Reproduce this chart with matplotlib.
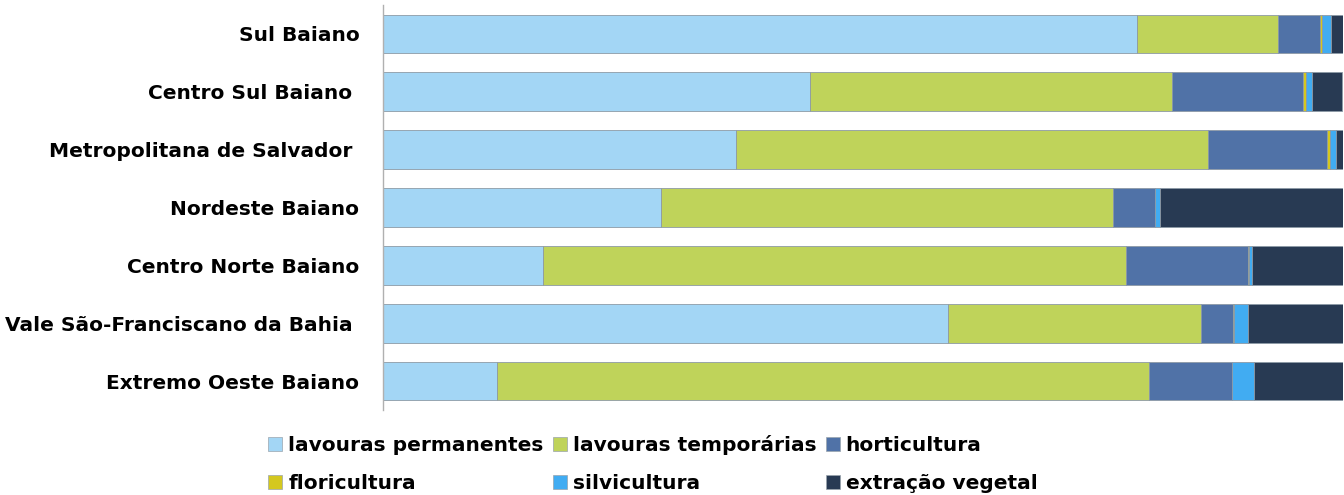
import matplotlib.pyplot as plt
from matplotlib.patches import Patch
import numpy as np

regions = [
    "Sul Baiano",
    "Centro Sul Baiano ",
    "Metropolitana de Salvador ",
    "Nordeste Baiano",
    "Centro Norte Baiano",
    "Vale São-Franciscano da Bahia ",
    "Extremo Oeste Baiano",
]

# shares (%) per region, same order as regions
lavouras_permanentes = [78.5, 44.5, 36.8, 29.0, 16.7, 58.9, 11.9]
lavouras_temporarias = [14.7, 37.7, 49.1, 47.0, 60.7, 26.3, 67.9]
horticultura = [4.4, 13.6, 12.4, 4.4, 12.7, 3.3, 8.6]
floricultura = [0.2, 0.3, 0.35, 0.0, 0.15, 0.1, 0.05]
silvicultura = [1.0, 0.7, 0.6, 0.5, 0.25, 1.55, 2.3]
extracao_vegetal = [1.2, 3.1, 0.8, 19.1, 9.5, 9.9, 9.4]

series = [
    ("lavouras permanentes", lavouras_permanentes, "#a3d6f5"),
    ("lavouras temporárias", lavouras_temporarias, "#bfd35a"),
    ("horticultura", horticultura, "#5072a7"),
    ("floricultura", floricultura, "#d4c81f"),
    ("silvicultura", silvicultura, "#41acf2"),
    ("extração vegetal", extracao_vegetal, "#283a53"),
]

plt.rcParams["font.family"] = ["DejaVu Sans"]
plt.rcParams["font.weight"] = "bold"

fig = plt.figure(figsize=(13.44, 4.95), dpi=100)
ax = fig.add_axes([383 / 1344, 85 / 495, 960 / 1344, 405 / 495])

y = np.arange(len(regions))
left = np.zeros(len(regions))
handles = []
for label, values, color in series:
    vals = np.array(values, dtype=float)
    ax.barh(y, vals, left=left, height=0.67, color=color,
            edgecolor="#8d9aa6", linewidth=0.6)
    left += vals
    handles.append(Patch(facecolor=color, edgecolor="#9aa4ad", linewidth=0.5, label=label))

ax.set_xlim(0, 100)
ax.set_ylim(len(regions) - 0.5, -0.5)
ax.set_yticks(y)
ax.set_yticklabels(regions, fontsize=14.5, fontweight="bold", color="#000000")
ax.tick_params(axis="y", length=0, pad=17)
ax.set_xticks([])
for side in ["top", "right", "bottom"]:
    ax.spines[side].set_visible(False)
ax.spines["left"].set_color("#b0b0b0")
ax.spines["left"].set_linewidth(1.0)

# legend fills column by column, so reorder to read across rows
order = [0, 3, 1, 4, 2, 5]
fig.legend(
    handles=[handles[i] for i in order],
    ncol=3,
    loc="lower left",
    bbox_to_anchor=(250 / 1344, -0.033),
    frameon=False,
    handlelength=0.7,
    handleheight=0.7,
    handletextpad=0.3,
    columnspacing=0.45,
    labelspacing=0.95,
    prop={"weight": "bold", "size": 14.5},
)

fig.savefig("out.png", dpi=100)
